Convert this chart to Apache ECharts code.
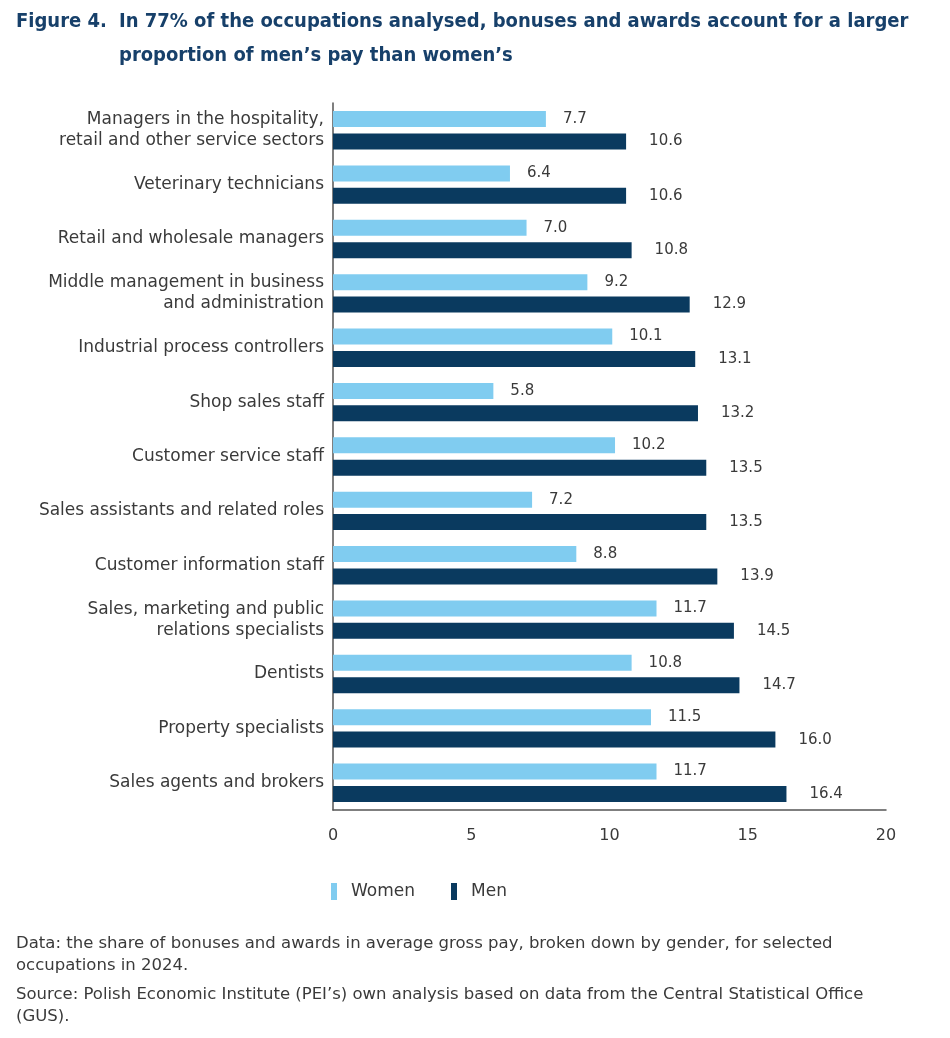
<!DOCTYPE html>
<html>
<head>
<meta charset="utf-8">
<script src="https://cdn.jsdelivr.net/npm/echarts@6/dist/echarts.min.js"></script>
<style>
  html, body { margin: 0; padding: 0; background: #fff; }
  #chart { width: 950px; height: 1038px; }
</style>
</head>
<body>
<div id="chart"></div>
<script>
var occupations = [
    "Managers in the hospitality,\nretail and other service sectors",
    "Veterinary technicians",
    "Retail and wholesale managers",
    "Middle management in business\nand administration",
    "Industrial process controllers",
    "Shop sales staff",
    "Customer service staff",
    "Sales assistants and related roles",
    "Customer information staff",
    "Sales, marketing and public\nrelations specialists",
    "Dentists",
    "Property specialists",
    "Sales agents and brokers"
];
var women = [7.7, 6.4, 7.0, 9.2, 10.1, 5.8, 10.2, 7.2, 8.8, 11.7, 10.8, 11.5, 11.7];
var men = [10.6, 10.6, 10.8, 12.9, 13.1, 13.2, 13.5, 13.5, 13.9, 14.5, 14.7, 16.0, 16.4];
var xTicks = [0, 5, 10, 15, 20];

var titleColor = "#17406a",
    textColor = "#3a3a3a",
    wideFont = "'DejaVu Sans', sans-serif",
    titleFont = "bold 20px 'Liberation Sans Narrow', 'DejaVu Sans Condensed', sans-serif";

var chart = echarts.init(document.getElementById("chart"));

var labelFmt = function (p) {
    return p.value.toFixed(1);
};

chart.setOption({
    animation: false,
    graphic: [
        {type: "text", left: 16, top: 5, style: {text: "Figure 4.", fill: titleColor,
            lineHeight: 34, font: titleFont}},
        {type: "text", left: 119, top: 5, style: {
            text: "In 77% of the occupations analysed, bonuses and awards account for a larger\nproportion of men\u2019s pay than women\u2019s",
            fill: titleColor, lineHeight: 34, font: titleFont}},
        {type: "text", left: 16, top: 933, style: {
            text: "Data: the share of bonuses and awards in average gross pay, broken down by gender, for selected\noccupations in 2024.",
            fill: textColor, lineHeight: 22, font: "16.5px " + wideFont}},
        {type: "text", left: 16, top: 984, style: {
            text: "Source: Polish Economic Institute (PEI\u2019s) own analysis based on data from the Central Statistical Office\n(GUS).",
            fill: textColor, lineHeight: 22, font: "16.5px " + wideFont}}
    ],
    legend: {
        left: 326,
        top: 878,
        itemWidth: 6,
        itemHeight: 17,
        itemGap: 36,
        icon: "rect",
        textStyle: {color: textColor, fontSize: 17, fontFamily: wideFont, padding: [0, 0, 0, 9]},
        data: ["Women", "Men"]
    },
    grid: {left: 333, right: 64, top: 103, bottom: 228, containLabel: false},
    xAxis: {
        type: "value",
        min: 0,
        max: 20,
        interval: 5,
        axisLine: {show: true, lineStyle: {color: "#555", width: 1.5}},
        axisTick: {show: false},
        splitLine: {show: false},
        axisLabel: {color: textColor, fontSize: 16, fontFamily: wideFont, margin: 18,
            formatter: function (v) { return xTicks.indexOf(v) >= 0 ? String(v) : ""; }}
    },
    yAxis: {
        type: "category",
        inverse: true,
        data: occupations,
        axisLine: {show: true, lineStyle: {color: "#555", width: 1.5}},
        axisTick: {show: false},
        axisLabel: {color: textColor, fontSize: 17, fontFamily: wideFont, margin: 9,
            lineHeight: 21, align: "right", padding: [6, 0, 0, 0]}
    },
    series: [
        {
            name: "Women",
            type: "bar",
            data: women,
            barWidth: 16,
            barGap: "40%",
            itemStyle: {color: "#80ccf0"},
            label: {show: true, position: "right", distance: 17, color: textColor,
                fontSize: 15, fontFamily: wideFont, formatter: labelFmt}
        },
        {
            name: "Men",
            type: "bar",
            data: men,
            barWidth: 16,
            barGap: "40%",
            itemStyle: {color: "#0a3a5f"},
            label: {show: true, position: "right", distance: 23, color: textColor,
                fontSize: 15, fontFamily: wideFont, formatter: labelFmt}
        }
    ]
});
</script>
</body>
</html>
